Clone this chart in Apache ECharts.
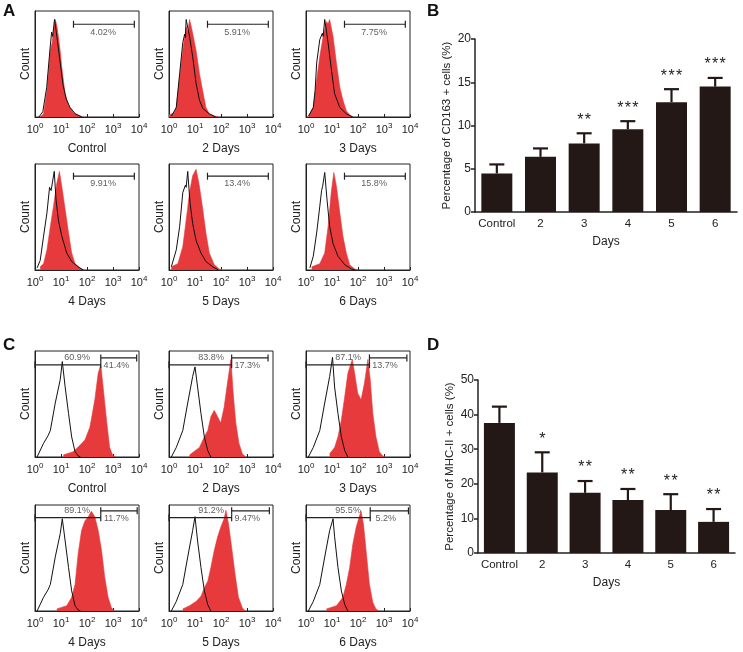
<!DOCTYPE html>
<html>
<head>
<meta charset="utf-8">
<script src="https://cdn.jsdelivr.net/npm/echarts@6/dist/echarts.min.js"></script>
<style>
  html, body { margin: 0; padding: 0; background: #fff; }
  #chart { width: 743px; height: 652px; }
</style>
</head>
<body>
<div id="chart"></div>
<script>
// flow histograms: [log10 decade, relative count]
const cd163Labels = ['Control', '2 Days', '3 Days', '4 Days', '5 Days', '6 Days'];
const cd163Red = [
  [[0.2,0],[0.33,3],[0.46,25],[0.53,45],[0.59,63],[0.66,70],[0.71,81],[0.78,92],[0.84,86],[0.9,76],[0.97,62],[1.03,47],[1.1,33],[1.16,22],[1.29,11],[1.48,4],[1.73,1],[1.85,0]],
  [[0.0,2],[0.2,4],[0.28,9],[0.41,38],[0.53,63],[0.66,85],[0.72,80],[0.79,92],[0.85,86],[0.91,79],[1.04,63],[1.17,41],[1.3,24],[1.42,9],[1.55,3],[1.74,1],[1.9,0]],
  [[0.1,1],[0.28,9],[0.41,35],[0.53,57],[0.66,76],[0.79,90],[0.85,88],[0.91,92],[1.04,76],[1.17,51],[1.3,28],[1.42,16],[1.55,6],[1.68,2],[1.8,0]],
  [[0.2,3],[0.33,6],[0.46,19],[0.59,41],[0.71,60],[0.84,82],[0.94,93],[1.03,79],[1.16,57],[1.29,35],[1.41,16],[1.54,6],[1.73,2],[1.9,0]],
  [[0.09,3],[0.34,6],[0.53,22],[0.66,47],[0.79,73],[0.91,89],[1.04,95],[1.1,88],[1.17,79],[1.3,57],[1.42,35],[1.55,16],[1.74,5],[1.93,1],[2.05,0]],
  [[0.22,3],[0.53,6],[0.72,16],[0.85,41],[0.97,73],[1.07,92],[1.17,79],[1.3,54],[1.42,32],[1.55,16],[1.68,5],[1.87,1],[2.0,0]]
];
const cd163Black = [
  [[0.15,0],[0.3,5],[0.45,28],[0.58,65],[0.64,80],[0.68,76],[0.75,92],[0.82,80],[0.95,55],[1.08,30],[1.2,17],[1.35,9],[1.55,3],[1.8,0]],
  [[0.1,1],[0.28,9],[0.41,41],[0.53,70],[0.6,78],[0.63,75],[0.66,92],[0.79,76],[0.91,57],[1.04,32],[1.17,16],[1.3,8],[1.55,3],[1.8,0]],
  [[0.1,1],[0.28,9],[0.35,25],[0.41,51],[0.53,73],[0.63,79],[0.66,76],[0.72,92],[0.85,70],[0.98,44],[1.1,22],[1.3,9],[1.55,3],[1.8,0]],
  [[0.08,2],[0.2,9],[0.33,32],[0.46,54],[0.56,78],[0.62,75],[0.74,93],[0.81,66],[0.9,47],[1.03,32],[1.22,16],[1.41,8],[1.66,3],[1.85,0]],
  [[0.09,3],[0.28,19],[0.41,41],[0.53,73],[0.63,80],[0.66,78],[0.72,93],[0.81,63],[0.91,44],[1.04,28],[1.23,16],[1.42,8],[1.68,3],[1.9,0]],
  [[0.15,2],[0.28,13],[0.41,35],[0.53,60],[0.6,75],[0.64,79],[0.72,92],[0.81,66],[0.91,41],[1.04,25],[1.23,13],[1.49,5],[1.74,1],[1.9,0]]
];
const cd163Gate = [1.48, 3.82];
const cd163Pct = ['4.02%', '5.91%', '7.75%', '9.91%', '13.4%', '15.8%'];

const mhcLabels = ['Control', '2 Days', '3 Days', '4 Days', '5 Days', '6 Days'];
const mhcRed = [
  [[1.09,2],[1.47,5],[1.73,11],[1.92,16],[2.11,28],[2.2,40],[2.3,54],[2.43,79],[2.53,87],[2.62,66],[2.75,35],[2.87,9],[3.0,1],[3.1,0]],
  [[0.79,2],[1.17,9],[1.36,19],[1.49,25],[1.61,38],[1.74,44],[1.87,38],[1.99,32],[2.12,47],[2.25,70],[2.38,92],[2.47,60],[2.57,32],[2.69,13],[2.82,3],[2.95,0]],
  [[0.91,3],[1.1,9],[1.23,19],[1.36,35],[1.49,57],[1.61,79],[1.78,92],[1.87,79],[1.99,60],[2.12,54],[2.25,70],[2.38,92],[2.47,73],[2.57,41],[2.69,19],[2.82,5],[2.95,1],[3.05,0]],
  [[0.84,2],[1.22,5],[1.41,13],[1.54,25],[1.66,54],[1.79,76],[1.92,85],[2.05,89],[2.17,94],[2.3,89],[2.43,76],[2.56,57],[2.68,32],[2.81,13],[2.94,3],[3.05,0]],
  [[0.53,2],[0.79,5],[1.04,9],[1.23,14],[1.36,22],[1.49,28],[1.61,41],[1.74,57],[1.87,70],[1.99,79],[2.12,87],[2.19,95],[2.29,82],[2.41,60],[2.54,35],[2.67,13],[2.82,3],[2.92,0]],
  [[0.79,2],[1.17,5],[1.42,13],[1.55,25],[1.68,41],[1.8,63],[1.93,79],[2.06,90],[2.12,94],[2.21,82],[2.31,57],[2.44,25],[2.57,8],[2.69,2],[2.8,0]]
];
const mhcBlack = [
  [[0.08,0],[0.33,13],[0.5,20],[0.59,25],[0.78,51],[0.97,73],[1.05,90],[1.16,66],[1.29,41],[1.41,19],[1.54,5],[1.66,1],[1.75,0]],
  [[0.09,0],[0.28,9],[0.53,25],[0.72,51],[0.91,76],[1.0,85],[1.1,66],[1.23,41],[1.36,19],[1.49,6],[1.61,0]],
  [[0.09,0],[0.28,9],[0.53,25],[0.72,51],[0.91,76],[1.02,94],[1.1,66],[1.23,41],[1.36,19],[1.49,6],[1.61,0]],
  [[0.08,0],[0.33,13],[0.5,20],[0.59,25],[0.78,51],[0.97,73],[1.05,87],[1.16,66],[1.29,41],[1.41,19],[1.54,5],[1.66,1],[1.75,0]],
  [[0.09,0],[0.28,9],[0.53,25],[0.72,51],[0.91,76],[1.0,89],[1.1,66],[1.23,41],[1.36,19],[1.49,6],[1.61,0]],
  [[0.09,0],[0.28,9],[0.53,25],[0.72,51],[0.91,76],[1.04,87],[1.1,70],[1.23,41],[1.36,19],[1.49,6],[1.61,0]]
];
const mhcGates = [[2.53,3.91],[2.41,3.81],[2.44,3.88],[2.53,3.93],[2.41,3.86],[2.47,3.94]];
const mhcPctLow = ['60.9%', '83.8%', '87.1%', '89.1%', '91.2%', '95.5%'];
const mhcPctHigh = ['41.4%', '17.3%', '13.7%', '11.7%', '9.47%', '5.2%'];
const decadeTicks = [0, 1, 2, 3, 4];

// bar charts
const dayCategories = ['Control', '2', '3', '4', '5', '6'];
const cd163Mean = [4.45, 6.38, 7.93, 9.56, 12.7, 14.5];
const cd163Err = [1.05, 0.97, 1.17, 0.94, 1.5, 1.0];
const cd163Stars = ['', '', '**', '***', '***', '***'];
const mhcMean = [37.6, 23.3, 17.4, 15.3, 12.4, 9.0];
const mhcErr = [4.7, 5.8, 3.4, 3.2, 4.6, 3.7];
const mhcStars = ['', '*', '**', '**', '**', '**'];

const RED = '#e63a3c';
const INK = '#231815';
const FONT = 'Liberation Sans, Arial, sans-serif';

const chart = echarts.init(document.getElementById('chart'));

const grid = [], xAxis = [], yAxis = [], series = [];
const histLefts = [35, 169, 306];
const histTops = [11, 164, 351, 505];

function addHist(k, row, col, red, black, label) {
  grid.push({ left: histLefts[col], top: histTops[row], width: 104, height: 106,
    show: true, borderColor: '#222', borderWidth: 1 });
  xAxis.push({
    gridIndex: k, type: 'value', min: 0, max: 4, interval: 1,
    name: label, nameLocation: 'middle', nameGap: 26,
    nameTextStyle: { fontSize: 12, color: '#222', fontFamily: FONT },
    axisLine: { lineStyle: { color: '#222' } },
    axisTick: { show: true, inside: true, length: 3, lineStyle: { color: '#222' } },
    splitLine: { show: false },
    axisLabel: {
      margin: 5, color: '#222', fontFamily: FONT,
      formatter: v => '{b|10}{s|' + decadeTicks[v] + '}',
      rich: {
        b: { fontSize: 11, lineHeight: 13, verticalAlign: 'bottom', fontFamily: FONT, color: '#222' },
        s: { fontSize: 8, verticalAlign: 'top', fontFamily: FONT, color: '#222' }
      }
    }
  });
  yAxis.push({
    gridIndex: k, type: 'value', min: 0, max: 100,
    name: 'Count', nameLocation: 'middle', nameGap: 3,
    nameTextStyle: { fontSize: 12, color: '#222', fontFamily: FONT },
    axisLine: { show: true, lineStyle: { color: '#222' } },
    axisTick: { show: false }, axisLabel: { show: false }, splitLine: { show: false }
  });
  series.push({
    type: 'line', xAxisIndex: k, yAxisIndex: k, data: red, symbol: 'none',
    lineStyle: { color: RED, width: 0.6 }, areaStyle: { color: RED, opacity: 1 }, z: 2
  });
  series.push({
    type: 'line', xAxisIndex: k, yAxisIndex: k, data: black, symbol: 'none',
    lineStyle: { color: '#111', width: 1 }, z: 3
  });
}

function addGate(k, x1, x2, y) {
  series.push({
    type: 'line', xAxisIndex: k, yAxisIndex: k, data: [[x1, y], [x2, y]],
    symbol: 'rect', symbolSize: [1.2, 7], clip: false,
    lineStyle: { color: '#222', width: 1.2 }, itemStyle: { color: '#222' }, z: 5
  });
}

function addText(k, x, y, txt) {
  series.push({
    type: 'scatter', xAxisIndex: k, yAxisIndex: k, data: [[x, y]], symbolSize: 0, z: 6,
    label: { show: true, position: 'inside', formatter: txt, fontSize: 9, color: '#333', fontFamily: FONT }
  });
}

for (let i = 0; i < 6; i++) {
  const row = Math.floor(i / 3), col = i % 3;
  addHist(i, row, col, cd163Red[i], cd163Black[i], cd163Labels[i]);
  addGate(i, cd163Gate[0], cd163Gate[1], row === 0 ? 87.5 : 88.5);
  addText(i, 2.62, row === 0 ? 80 : 81.5, cd163Pct[i]);
}
for (let i = 0; i < 6; i++) {
  const k = i + 6, row = Math.floor(i / 3) + 2, col = i % 3;
  const yl = row === 2 ? 87 : 88, yh = yl + 6.5;
  addHist(k, row, col, mhcRed[i], mhcBlack[i], mhcLabels[i]);
  addGate(k, 0, mhcGates[i][0], yl);
  addGate(k, mhcGates[i][0], mhcGates[i][1], yh);
  addText(k, 1.62, yl + 7, mhcPctLow[i]);
  addText(k, mhcGates[i][0] + 0.6, yl - 0.5, mhcPctHigh[i]);
}

function addBars(k, box, mean, err, stars, yMax, yStep, yName) {
  grid.push(Object.assign({ show: false }, box));
  xAxis.push({
    gridIndex: k, type: 'category', data: dayCategories,
    name: 'Days', nameLocation: 'middle', nameGap: 24,
    nameTextStyle: { fontSize: 12, color: '#222', fontFamily: FONT },
    axisLine: { lineStyle: { color: '#222', width: 1.5 } },
    axisTick: { show: false },
    axisLabel: { fontSize: 11.5, color: '#222', margin: 6, fontFamily: FONT, interval: 0 }
  });
  yAxis.push({
    gridIndex: k, type: 'value', min: 0, max: yMax, interval: yStep,
    name: yName, nameLocation: 'middle', nameGap: 22,
    nameTextStyle: { fontSize: 11.5, color: '#222', fontFamily: FONT },
    axisLine: { show: true, lineStyle: { color: '#222', width: 1.5 } },
    axisTick: { show: true, length: 4, lineStyle: { color: '#222', width: 1.5 } },
    axisLabel: { fontSize: 12, color: '#222', margin: 4, fontFamily: FONT },
    splitLine: { show: false }
  });
  series.push({
    type: 'bar', xAxisIndex: k, yAxisIndex: k, data: mean, barWidth: 31,
    itemStyle: { color: INK }, z: 2
  });
  series.push({
    type: 'custom', xAxisIndex: k, yAxisIndex: k, z: 3,
    data: mean.map((m, i) => [i, m, err[i]]),
    renderItem: (params, api) => {
      const base = api.coord([api.value(0), api.value(1)]);
      const top = api.coord([api.value(0), api.value(1) + api.value(2)]);
      const st = { stroke: INK, lineWidth: 2.2 };
      return {
        type: 'group', children: [
          { type: 'line', shape: { x1: base[0], y1: base[1], x2: top[0], y2: top[1] }, style: st },
          { type: 'line', shape: { x1: top[0] - 7.5, y1: top[1], x2: top[0] + 7.5, y2: top[1] }, style: st },
          { type: 'text', x: top[0], y: top[1] - 5, style: {
              text: stars[params.dataIndex].split('').join('\u200A'), fill: '#222', font: '16px ' + FONT,
              align: 'center', verticalAlign: 'bottom' } }
        ]
      };
    }
  });
}

addBars(12, { left: 475, top: 39, width: 262, height: 173 }, cd163Mean, cd163Err, cd163Stars, 20, 5,
  'Percentage of CD163 + cells (%)');
addBars(13, { left: 478, top: 380, width: 257, height: 173 }, mhcMean, mhcErr, mhcStars, 50, 10,
  'Percentage of MHC-II + cells (%)');

const letter = (t, x, y) => ({ type: 'text', left: x, top: y,
  style: { text: t, font: 'bold 17px ' + FONT, fill: '#111' } });

chart.setOption({
  animation: false,
  textStyle: { fontFamily: FONT },
  grid, xAxis, yAxis, series,
  graphic: [letter('A', 3, 3), letter('B', 427, 3), letter('C', 3, 337), letter('D', 427, 337)]
});
</script>
</body>
</html>
